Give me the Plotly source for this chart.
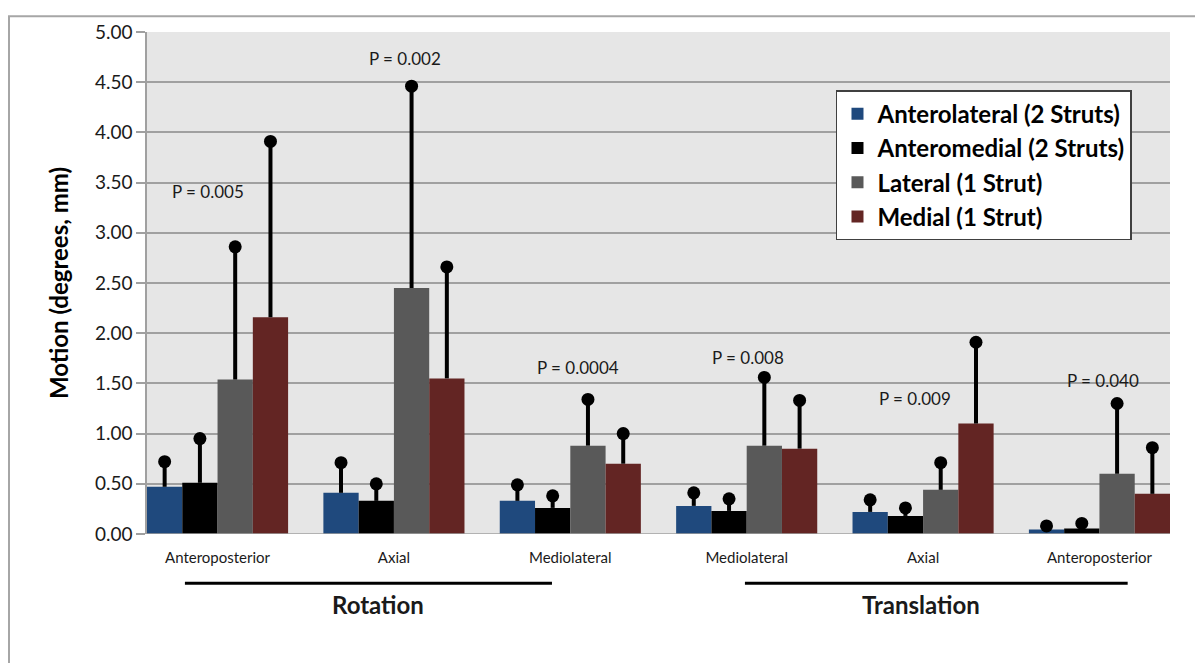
import plotly.graph_objects as go

# ---- data ----
categories = ["Anteroposterior", "Axial", "Mediolateral", "Mediolateral", "Axial", "Anteroposterior"]
series_names = ["Anterolateral (2 Struts)", "Anteromedial (2 Struts)", "Lateral (1 Strut)", "Medial (1 Strut)"]
anterolateral = [0.47, 0.41, 0.33, 0.28, 0.22, 0.046]
anterolateral_err = [0.25, 0.30, 0.16, 0.13, 0.12, 0.034]
anteromedial = [0.51, 0.33, 0.26, 0.23, 0.18, 0.056]
anteromedial_err = [0.44, 0.17, 0.12, 0.12, 0.08, 0.049]
lateral = [1.54, 2.45, 0.88, 0.88, 0.44, 0.60]
lateral_err = [1.32, 2.01, 0.46, 0.68, 0.27, 0.70]
medial = [2.16, 1.55, 0.70, 0.85, 1.10, 0.40]
medial_err = [1.75, 1.11, 0.30, 0.48, 0.81, 0.46]
p_labels = ["P = 0.005", "P = 0.002", "P = 0.0004", "P = 0.008", "P = 0.009", "P = 0.040"]
p_x = [-0.054, 1.063, 2.043, 3.007, 3.954, 5.019]
p_y = [3.41, 4.735, 1.66, 1.76, 1.345, 1.53]
y_ticks = [0, 0.5, 1.0, 1.5, 2.0, 2.5, 3.0, 3.5, 4.0, 4.5, 5.0]
group_labels = ["Rotation", "Translation"]

colors = ["#1F497D", "#000000", "#595959", "#632523"]
values = [anterolateral, anteromedial, lateral, medial]
errors = [anterolateral_err, anteromedial_err, lateral_err, medial_err]

FONT = "Lato, Carlito, Calibri, sans-serif"
xs = list(range(len(categories)))
bw = 0.2
offsets = [-0.4, -0.2, 0.0, 0.2]

fig = go.Figure()
for name, vals, errs, col, off in zip(series_names, values, errors, colors, offsets):
    fig.add_trace(go.Bar(
        x=xs, y=vals, name=name, width=bw, offset=off,
        marker=dict(color=col, line=dict(width=0)),
        error_y=dict(type="data", symmetric=False, array=errs,
                     arrayminus=[0] * len(errs), color="black", thickness=4, width=0),
    ))
for vals, errs, off in zip(values, errors, offsets):
    fig.add_trace(go.Scatter(
        x=[x + off + bw / 2 for x in xs],
        y=[v + e for v, e in zip(vals, errs)],
        mode="markers", showlegend=False, hoverinfo="skip",
        marker=dict(color="black", size=13, symbol="circle"),
    ))

for txt, px, py in zip(p_labels, p_x, p_y):
    fig.add_annotation(x=px, y=py, xref="x", yref="y", text=txt, showarrow=False,
                       font=dict(family=FONT, size=17, color="#1a1a1a"))

# group brackets
spans = [(-0.185, 1.896), (2.99, 5.16)]
label_x = [0.91, 3.99]
for (a, b), lab, lx in zip(spans, group_labels, label_x):
    fig.add_shape(type="line", xref="x", yref="paper", x0=a, x1=b, y0=-0.098, y1=-0.098,
                  line=dict(color="black", width=3))
    fig.add_annotation(x=lx, y=-0.173, xref="x", yref="paper", text="<b>%s</b>" % lab,
                       showarrow=False, font=dict(family=FONT, size=24, color="#1a1a1a"))

# outer chart border
fig.add_shape(type="rect", xref="paper", yref="paper", x0=-0.1349, x1=1.06, y0=-0.3, y1=1.0314,
              line=dict(color="#A6A6A6", width=2), fillcolor="rgba(0,0,0,0)", layer="below")

fig.update_layout(
    width=1195, height=655,
    margin=dict(l=139, r=33, t=17, b=129),
    paper_bgcolor="white", plot_bgcolor="#E6E6E6",
    barmode="overlay",
    font=dict(family=FONT, color="#1a1a1a"),
    legend=dict(x=0.6735, y=0.884, xanchor="left", yanchor="top",
                bgcolor="white", bordercolor="#404040", borderwidth=1.5,
                font=dict(family=FONT, size=24, color="black", weight="bold"),
                tracegroupgap=0, itemclick=False),
    xaxis=dict(range=[-0.4, 5.4], tickmode="array", tickvals=xs, ticktext=categories,
               showgrid=False, zeroline=False, showline=False,
               ticks="outside", ticklen=10, tickcolor="rgba(0,0,0,0)",
               tickfont=dict(family=FONT, size=15, color="#1a1a1a")),
    yaxis=dict(range=[0, 5], tickmode="array", tickvals=y_ticks,
               ticktext=["%.2f" % t for t in y_ticks],
               showgrid=True, gridcolor="#A0A0A0", gridwidth=1.5,
               zeroline=False, showline=True, linecolor="#A0A0A0", linewidth=1.5,
               ticks="outside", ticklen=9, tickcolor="#A0A0A0", tickwidth=1.5,
               tickfont=dict(family=FONT, size=19, color="#1a1a1a"),
               title=dict(text="<b>Motion (degrees, mm)</b>", standoff=20,
                          font=dict(family=FONT, size=24, color="black"))),
    showlegend=True,
)
fig.add_shape(type="line", xref="paper", yref="y", x0=0, x1=1, y0=0, y1=0,
              line=dict(color="#A0A0A0", width=1.5))

fig.write_html("out.html")
